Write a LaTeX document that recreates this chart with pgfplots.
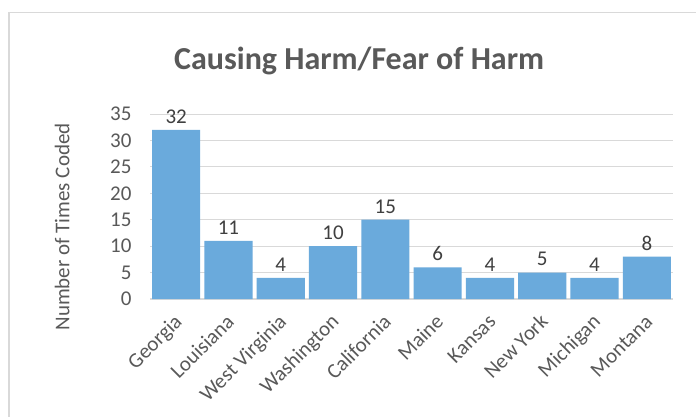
\documentclass[border=0pt]{standalone}
\usepackage{pgfplots}
\pgfplotsset{compat=1.18}
\usepackage{fontspec}
\setmainfont{Carlito}
\definecolor{barblue}{HTML}{6AAADC}
\definecolor{txtgray}{HTML}{595959}
\definecolor{lblgray}{HTML}{404040}
\definecolor{gridgray}{HTML}{D9D9D9}
\newcommand{\tfont}{\fontsize{21}{23}\selectfont}
\begin{document}
\begin{tikzpicture}[x=1pt,y=1pt]
\useasboundingbox (0,0) rectangle (696,416);
\fill[white] (0,0) rectangle (696,416);
\draw[gridgray, line width=1.2pt] (9,-5) -- (9,403.5) -- (700,403.5);
\begin{axis}[
  at={(150pt,117pt)}, anchor=south west,
  scale only axis, width=523pt, height=185pt,
  xmin=-0.5, xmax=9.5, ymin=0, ymax=35,
  ytick={0,5,...,35},
  xtick={0,...,9},
  xticklabels={Georgia,Louisiana,West Virginia,Washington,California,Maine,Kansas,New York,Michigan,Montana},
  xticklabel style={font=\tfont, text=txtgray, xshift=7pt, yshift=-24pt, rotate=45, anchor=base east, inner sep=0pt},
  yticklabel style={font=\tfont, text=txtgray, xshift=-15pt},
  tick style={draw=none},
  ymajorgrids, grid style={gridgray, line width=1pt},
  axis line style={draw=none},
  /pgf/number format/assume math mode=true,
  ylabel={Number of Times Coded},
  ylabel style={at={(axis description cs:-0.168,0.39)}, anchor=center, font=\tfont, text=txtgray},
  every axis title shift=0pt,
  title={\textbf{Causing Harm/Fear of Harm}},
  title style={at={(axis description cs:0.40,1.243)}, anchor=base, font=\fontsize{32}{36}\selectfont, text=txtgray},
  clip=false,
]
\draw[gridgray, line width=1.2pt] (axis cs:-0.5,0) -- (axis cs:9.5,0);
\addplot[ybar, bar width=0.92, fill=barblue, draw=none,
  nodes near coords,
  every node near coord/.append style={font=\tfont, text=lblgray, yshift=3pt}]
  coordinates {(0,32) (1,11) (2,4) (3,10) (4,15) (5,6) (6,4) (7,5) (8,4) (9,8)};
\end{axis}
\end{tikzpicture}
\end{document}
